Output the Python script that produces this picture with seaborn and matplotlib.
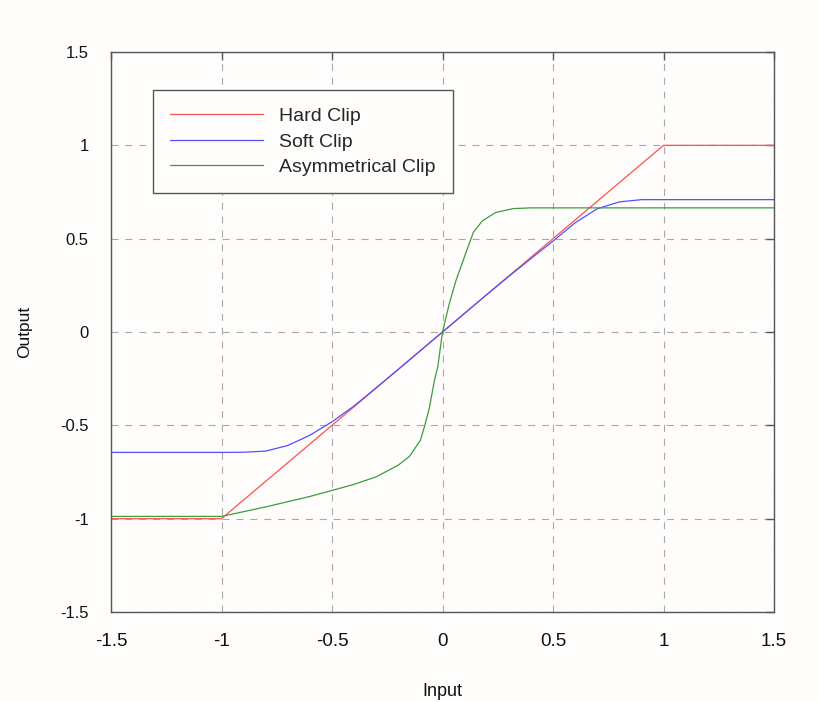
import matplotlib
matplotlib.use("Agg")
import matplotlib.pyplot as plt
import seaborn as sns
import pandas as pd
from matplotlib.lines import Line2D

# ---- data ----
series_names = ["Hard Clip", "Soft Clip", "Asymmetrical Clip"]
series_colors = ["#ff5050", "#5050ff", "#3c9c3c"]

hard_x = [-1.5, -1.0, 1.0, 1.5]
hard_y = [-1.0, -1.0, 1.0, 1.0]

soft_x = [-1.5, -1.0, -0.9, -0.8, -0.7, -0.6, -0.5, -0.4, -0.3, -0.2, -0.1, 0.0,
          0.1, 0.2, 0.3, 0.4, 0.5, 0.6, 0.7, 0.8, 0.9, 1.5]
soft_y = [-0.645, -0.645, -0.644, -0.638, -0.608, -0.553, -0.481, -0.396, -0.299, -0.2, -0.1, 0.0,
          0.1, 0.2, 0.298, 0.393, 0.487, 0.585, 0.66, 0.697, 0.709, 0.709]

asym_x = [-1.5, -1.0, -0.8, -0.6, -0.5, -0.4, -0.3, -0.2, -0.15, -0.1, -0.08, -0.06,
          -0.036, -0.021, 0.0, 0.03, 0.06, 0.1, 0.14, 0.18, 0.24, 0.32, 0.4, 1.5]
asym_y = [-0.988, -0.988, -0.937, -0.881, -0.849, -0.816, -0.776, -0.713, -0.667, -0.58, -0.50, -0.41,
          -0.256, -0.184, 0.0, 0.148, 0.272, 0.405, 0.535, 0.595, 0.64, 0.661, 0.665, 0.665]

tick_values = [-1.5, -1.0, -0.5, 0.0, 0.5, 1.0, 1.5]
tick_labels = ["-1.5", "-1", "-0.5", "0", "0.5", "1", "1.5"]
x_label = "Input"
y_label = "Output"

# ---- build frame ----
frames = []
for name, xs, ys in zip(series_names, [hard_x, soft_x, asym_x], [hard_y, soft_y, asym_y]):
    frames.append(pd.DataFrame({"x": xs, "y": ys, "series": name}))
df = pd.concat(frames, ignore_index=True)

sns.set_style("white")
plt.rcParams["font.family"] = ["Liberation Sans", "DejaVu Sans"]
plt.rcParams["lines.scale_dashes"] = False

bg = "#fefdfc"
fig = plt.figure(figsize=(8.18, 7.02), dpi=100)
fig.patch.set_facecolor(bg)
ax = fig.add_axes([111 / 818, 90 / 702, 663 / 818, 560 / 702])
ax.set_facecolor(bg)

palette = dict(zip(series_names, series_colors))
sns.lineplot(data=df, x="x", y="y", hue="series", hue_order=series_names,
             palette=palette, estimator=None, sort=False, linewidth=0.9, ax=ax,
             legend=False)

ax.set_xlim(-1.5, 1.5)
ax.set_ylim(-1.5, 1.5)
ax.set_xticks(tick_values)
ax.set_xticklabels(tick_labels)
ax.set_yticks(tick_values)
ax.set_yticklabels(tick_labels)

ax.grid(True, color="#a8a8a8", linewidth=0.8, linestyle=(0, (5, 5)))
for s in ax.spines.values():
    s.set_visible(True)
    s.set_color("#555555")
    s.set_linewidth(1.0)
ax.tick_params(direction="in", length=6, width=1.0, color="#555555",
               top=True, right=True, labelsize=12, labelcolor="#111111")
ax.tick_params(axis="y", pad=16)
ax.tick_params(axis="x", pad=15, labelsize=13.5)

ax.set_xlabel(x_label, fontsize=13, labelpad=24, color="#111111")
ax.set_ylabel(y_label, fontsize=12.5, labelpad=20, color="#111111")

handles = [Line2D([], [], color=c, linewidth=0.9) for c in series_colors]
leg = ax.legend(handles, series_names, loc="upper left",
                bbox_to_anchor=(0.063, 0.932), fontsize=14, frameon=True,
                fancybox=False, shadow=False, handlelength=4.75, handletextpad=0.82,
                borderpad=0.9, labelspacing=0.4, borderaxespad=0, framealpha=1)
leg.get_frame().set_edgecolor("#555555")
leg.get_frame().set_linewidth(1.0)
leg.get_frame().set_facecolor(bg)

fig.savefig("out.png", dpi=100, facecolor=fig.get_facecolor())
